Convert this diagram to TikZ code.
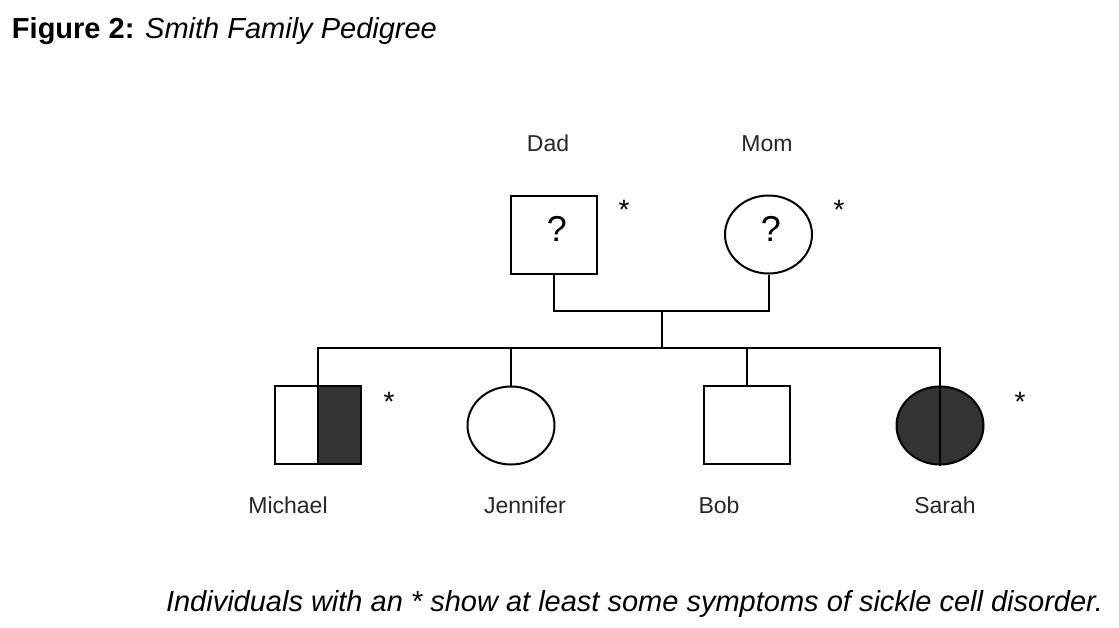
\documentclass[tikz,border=0pt]{standalone}
\usepackage{fontspec}
\setmainfont{Liberation Sans}
\usetikzlibrary{shapes.geometric}
\definecolor{fillgray}{HTML}{333333}
\definecolor{labgray}{HTML}{262626}
\begin{document}
\begin{tikzpicture}[x=1pt,y=-1pt,
  line width=2pt,
  male/.style={draw, rectangle, minimum width=86pt, minimum height=78pt, inner sep=0pt},
  female/.style={draw, ellipse, minimum width=87pt, minimum height=78pt, inner sep=0pt},
  lbl/.style={font=\fontsize{23}{26}\selectfont, text=labgray, inner sep=0pt, anchor=base},
  star/.style={font=\fontsize{28}{30}\selectfont, inner sep=0pt},
  qm/.style={font=\fontsize{36}{38}\selectfont, inner sep=0pt}]
\useasboundingbox (0,0) rectangle (1119,627);
% title
\node[anchor=west, inner sep=0pt, font=\fontsize{29}{31}\selectfont] (title) at (11,31) {\textbf{Figure 2:} \textit{Smith Family Pedigree}};
% parents
\node[male] (dad) at (553.5,234.5) {};
\node[female] (mom) at (768.5,234.5) {};
\node[qm] (dadq) at (557,229) {?};
\node[qm] (momq) at (771,229) {?};
\node[lbl] (dadl) at (548,151) {Dad};
\node[lbl] (moml) at (767,151) {Mom};
\node[star] (dads) at (624,210) {*};
\node[star] (moms) at (839,210) {*};
% children
\node[male, path picture={\fill[fillgray] (path picture bounding box.north) rectangle (path picture bounding box.south east);}] (mic) at (318,425) {};
\node[female] (jen) at (511,425.5) {};
\node[male] (bob) at (746.5,425) {};
\node[female, fill=fillgray] (sar) at (940,425.5) {};
\draw (mic.north) -- (mic.south);
\draw (sar.north) -- (sar.south);
\node[star] (mics) at (389,402) {*};
\node[star] (sars) at (1020,402) {*};
\node[lbl] (micl) at (288,513) {Michael};
\node[lbl] (jenl) at (525,513) {Jennifer};
\node[lbl] (bobl) at (719,513) {Bob};
\node[lbl] (sarl) at (945,513) {Sarah};
% connectors
\coordinate (mar) at (662,311);
\coordinate (sib) at (662,348);
\draw (dad.south) |- (mar) -| (mom.south);
\draw (mar) -- (sib);
\draw (mic.north) |- (sib) -| (sar.north);
\draw (jen.north) -- (jen.north |- sib);
\draw (bob.north) -- (bob.north |- sib);
% caption
\node[anchor=east, inner sep=0pt, font=\fontsize{29}{32}\selectfont\itshape] (cap) at (1104,604) {Individuals with an * show at least some symptoms of sickle cell disorder.};
\end{tikzpicture}
\end{document}
